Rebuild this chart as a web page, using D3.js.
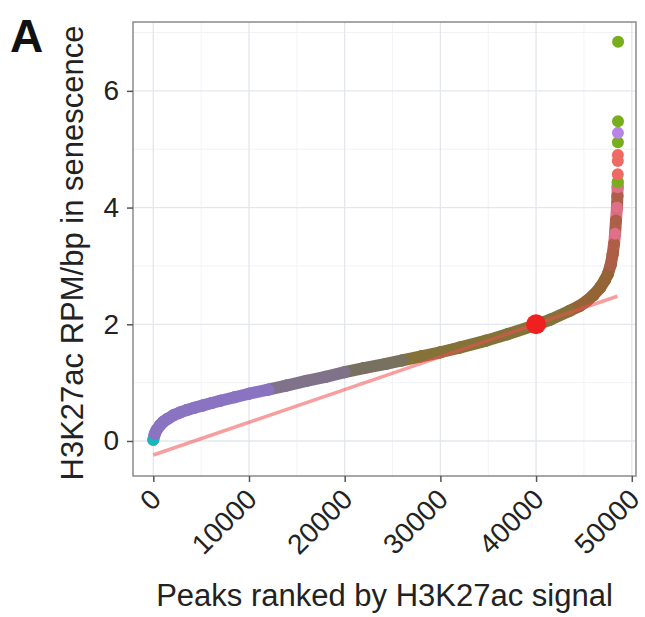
<!DOCTYPE html>
<html>
<head>
<meta charset="utf-8">
<script src="https://cdn.jsdelivr.net/npm/d3@7"></script>
<style>
  body { margin: 0; background: #fff; }
  text { font-family: "Liberation Sans", Arial, sans-serif; fill: #222; }
</style>
</head>
<body>
<div id="chart"></div>
<script>
// ranked peaks (rank, RPM/bp)
const ranks = [0, 150, 350, 700, 1050, 1500, 2100, 2800, 3500, 4300, 5200, 6100, 7000, 8500,
  10000, 12000, 13900, 16000, 18000, 20000, 22000, 24300, 26000, 28000, 30000, 32000, 34800,
  37000, 40000, 41500, 43500, 44500, 45300, 46000, 46700, 47200, 47500, 47800, 48000, 48150,
  48250, 48350, 48450, 48500, 48520, 48530, 48535, 48540, 48545, 48550, 48555, 48560, 48570];
const values = [0.02, 0.12, 0.19, 0.27, 0.33, 0.38, 0.44, 0.49, 0.53, 0.57, 0.61, 0.65, 0.69, 0.75,
  0.81, 0.88, 0.95, 1.03, 1.10, 1.18, 1.25, 1.32, 1.38, 1.45, 1.52, 1.60, 1.72,
  1.83, 1.99, 2.08, 2.23, 2.31, 2.40, 2.50, 2.63, 2.76, 2.86, 3.02, 3.20, 3.38,
  3.55, 3.78, 4.00, 4.20, 4.35, 4.44, 4.57, 4.80, 4.90, 5.12, 5.28, 5.48, 6.84];
// dominant colour group of the overlapping points at each rank
const groups = ["cyan", "purple", "purple", "purple", "purple", "purple", "purple", "purple", "purple", "purple",
  "purple", "purple", "purple", "purple", "purple", "purple", "greypurple", "greypurple", "greypurple", "greypurple",
  "grey", "grey", "grey", "olive", "olive", "olive", "olive", "olive", "olive", "olive",
  "olive", "brown", "brown", "brown", "brown", "brown", "brown", "redbrown", "redbrown", "redbrown",
  "pink", "redbrown", "pink", "redbrown", "pink", "green", "red", "red", "red", "green",
  "purplepure", "green", "green"];

// knee point and tangent line
const kneeRank = [40000];
const kneeValue = [2.0];
const tangentRank = [0, 48500];
const tangentValue = [-0.24, 2.48];

const xTicks = [0, 10000, 20000, 30000, 40000, 50000];
const yTicks = [0, 2, 4, 6];
const xMinor = [5000, 15000, 25000, 35000, 45000];
const yMinor = [1, 3, 5, 7];

const width = 645, height = 617;
const panel = { left: 133, top: 22, right: 636, bottom: 476 };

const svg = d3.select("#chart").append("svg")
  .attr("width", width)
  .attr("height", height);

const x = d3.scaleLinear().domain([-2120, 50440]).range([panel.left, panel.right]);
const y = d3.scaleLinear().domain([-0.6, 7.18]).range([panel.bottom, panel.top]);

const color = d3.scaleOrdinal()
  .domain(["cyan", "purple", "greypurple", "grey", "olive", "brown", "redbrown", "pink", "red", "green", "purplepure"])
  .range(["#19b6c0", "#8a74c2", "#7f7289", "#787160", "#857238", "#946436", "#ad5e46", "#e06f88", "#f06a64", "#78ad1c", "#b884e8"]);

// panel background + grid
svg.append("rect")
  .attr("x", panel.left).attr("y", panel.top)
  .attr("width", panel.right - panel.left).attr("height", panel.bottom - panel.top)
  .attr("fill", "#fff");

const grid = svg.append("g");
grid.selectAll(".xminor").data(xMinor).enter().append("line")
  .attr("x1", d => x(d)).attr("x2", d => x(d))
  .attr("y1", panel.top).attr("y2", panel.bottom)
  .attr("stroke", "#f1f3f6").attr("stroke-width", 1);
grid.selectAll(".yminor").data(yMinor).enter().append("line")
  .attr("y1", d => y(d)).attr("y2", d => y(d))
  .attr("x1", panel.left).attr("x2", panel.right)
  .attr("stroke", "#f1f3f6").attr("stroke-width", 1);
grid.selectAll(".xmajor").data(xTicks).enter().append("line")
  .attr("x1", d => x(d)).attr("x2", d => x(d))
  .attr("y1", panel.top).attr("y2", panel.bottom)
  .attr("stroke", "#e3e7ec").attr("stroke-width", 1.3);
grid.selectAll(".ymajor").data(yTicks).enter().append("line")
  .attr("y1", d => y(d)).attr("y2", d => y(d))
  .attr("x1", panel.left).attr("x2", panel.right)
  .attr("stroke", "#e3e7ec").attr("stroke-width", 1.3);

// ranked points: thick band through the dense part of the ranking, then dots
const pts = ranks.map((r, i) => ({ r: r, v: values[i], g: groups[i] }));
const dense = pts.filter(d => d.v <= 4.5);
const band = svg.append("g");
for (let i = 0; i < dense.length - 1; i++) {
  band.append("path")
    .datum([dense[i], dense[i + 1]])
    .attr("d", d3.line().x(d => x(d.r)).y(d => y(d.v)))
    .attr("stroke", color(dense[i + 1].g))
    .attr("stroke-width", 12)
    .attr("stroke-linecap", "round")
    .attr("fill", "none");
}
band.selectAll("circle").data(pts).enter().append("circle")
  .attr("cx", d => x(d.r))
  .attr("cy", d => y(d.v))
  .attr("r", 6)
  .attr("fill", d => color(d.g));

// tangent line
svg.append("path")
  .datum(tangentRank.map((r, i) => [r, tangentValue[i]]))
  .attr("d", d3.line().x(d => x(d[0])).y(d => y(d[1])))
  .attr("stroke", "rgba(240,80,80,0.55)")
  .attr("stroke-width", 3.5)
  .attr("fill", "none");

// knee point
svg.selectAll(".knee").data(kneeRank).enter().append("circle")
  .attr("cx", d => x(d))
  .attr("cy", (d, i) => y(kneeValue[i]))
  .attr("r", 10)
  .attr("fill", "#f02020");

// panel border
svg.append("rect")
  .attr("x", panel.left).attr("y", panel.top)
  .attr("width", panel.right - panel.left).attr("height", panel.bottom - panel.top)
  .attr("fill", "none").attr("stroke", "#8a8a8a").attr("stroke-width", 1.5);

// axes
const xAxis = svg.append("g")
  .attr("transform", `translate(0,${panel.bottom})`)
  .call(d3.axisBottom(x).tickValues(xTicks).tickSize(6).tickFormat(d3.format("d")));
xAxis.select(".domain").remove();
xAxis.selectAll(".tick line").attr("stroke", "#555").attr("stroke-width", 1.5);
xAxis.selectAll(".tick text")
  .attr("font-size", 28)
  .attr("text-anchor", "end")
  .attr("y", 0).attr("dy", 0)
  .attr("transform", "translate(9,25) rotate(-45)");

const yAxis = svg.append("g")
  .attr("transform", `translate(${panel.left},0)`)
  .call(d3.axisLeft(y).tickValues(yTicks).tickSize(6));
yAxis.select(".domain").remove();
yAxis.selectAll(".tick line").attr("stroke", "#555").attr("stroke-width", 1.5);
yAxis.selectAll(".tick text").attr("font-size", 28).attr("x", -14);

// titles
svg.append("text")
  .attr("x", (panel.left + panel.right) / 2)
  .attr("y", 606)
  .attr("text-anchor", "middle")
  .attr("font-size", 31)
  .text("Peaks ranked by H3K27ac signal");

svg.append("text")
  .attr("transform", `translate(83,${(panel.top + panel.bottom) / 2 + 4}) rotate(-90)`)
  .attr("text-anchor", "middle")
  .attr("font-size", 31)
  .text("H3K27ac RPM/bp in senescence");

svg.append("text")
  .attr("x", 10).attr("y", 52)
  .attr("font-size", 46)
  .attr("font-weight", "bold")
  .style("fill", "#111")
  .text("A");
</script>
</body>
</html>
